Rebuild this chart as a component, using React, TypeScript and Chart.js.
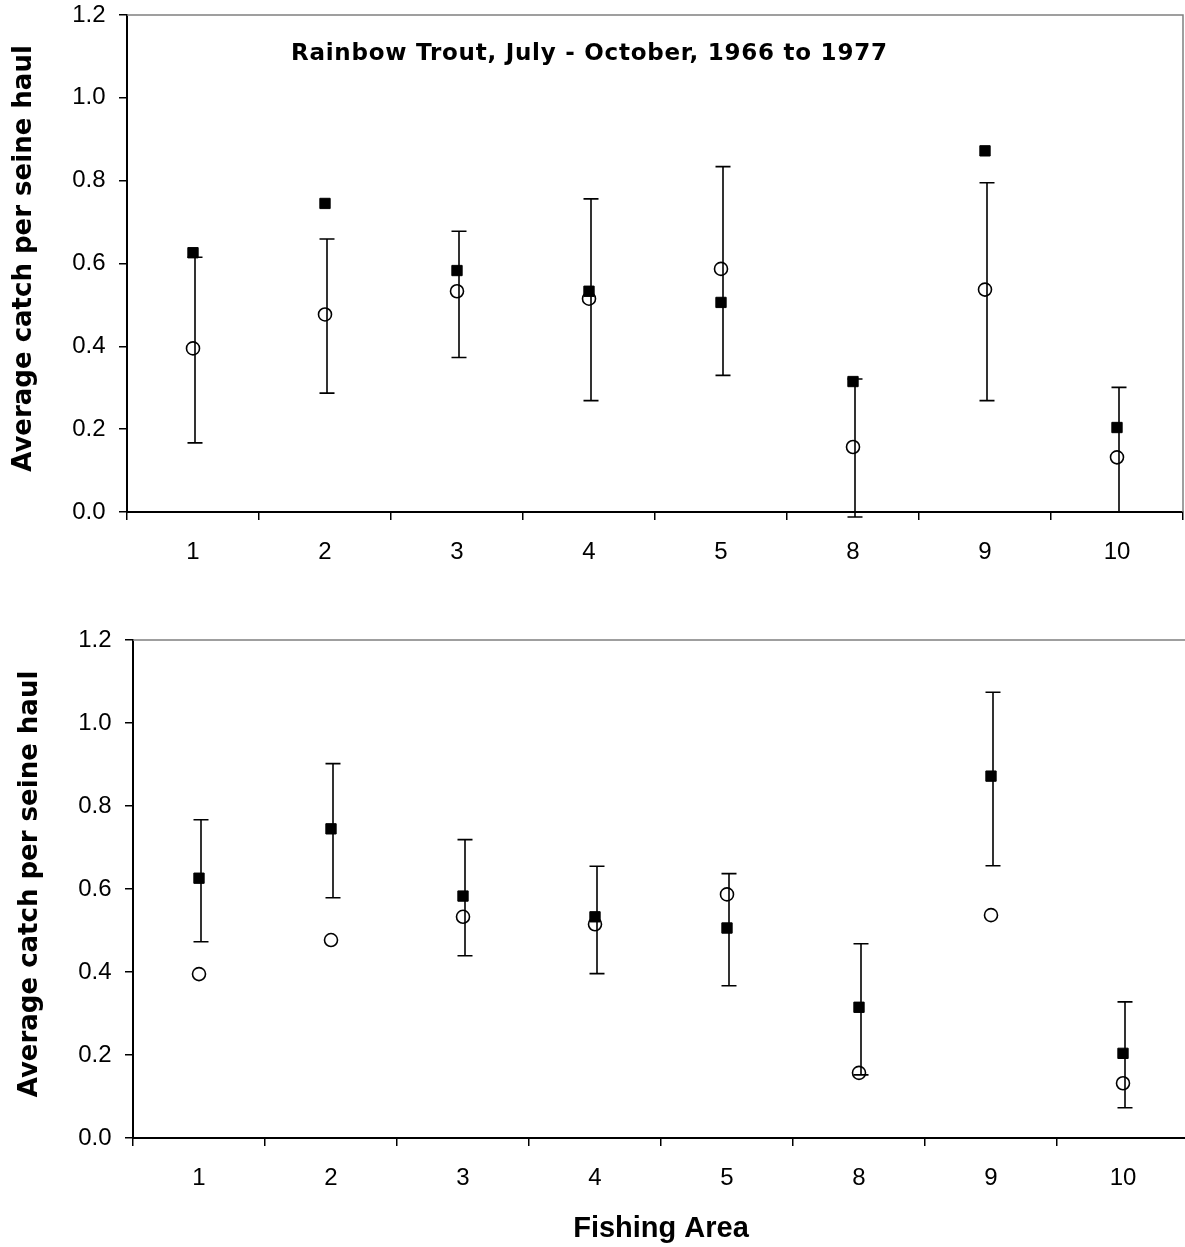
import React, { useEffect, useRef } from 'react';
import { Chart, registerables } from 'chart.js';

Chart.register(...registerables);

// ---- data ----
const AREAS = ['1', '2', '3', '4', '5', '8', '9', '10'];
const SQUARE_MEANS = [0.626, 0.745, 0.583, 0.533, 0.506, 0.315, 0.872, 0.204];
const CIRCLE_MEANS = [0.395, 0.477, 0.533, 0.515, 0.587, 0.157, 0.537, 0.132];
const TOP_ERR_LOW = [0.167, 0.287, 0.373, 0.269, 0.33, -0.012, 0.269, 0.0];
const TOP_ERR_HIGH = [0.615, 0.659, 0.678, 0.756, 0.834, 0.321, 0.795, 0.301];
const BOTTOM_ERR_LOW = [0.473, 0.579, 0.439, 0.396, 0.367, 0.152, 0.656, 0.073];
const BOTTOM_ERR_HIGH = [0.767, 0.902, 0.719, 0.655, 0.637, 0.468, 1.074, 0.328];
const Y_MIN = 0;
const Y_MAX = 1.2;
const Y_STEP = 0.2;
const TITLE = 'Rainbow Trout, July - October, 1966 to 1977';
const Y_TITLE = 'Average catch per seine haul';
const X_TITLE = 'Fishing Area';

const TICK_FONT = { family: "'Liberation Sans', Arial, sans-serif", size: 24 };

const errorBarsPlugin = {
  id: 'errorBars',
  afterDatasetsDraw(chart: any, _args: any, opts: any) {
    if (!opts || !opts.low) return;
    const meta = chart.getDatasetMeta(opts.datasetIndex);
    const y = chart.scales.y;
    const ctx = chart.ctx;
    ctx.save();
    ctx.strokeStyle = '#000';
    ctx.lineWidth = 1.6;
    const half = 7.5;
    opts.low.forEach((lo: number, i: number) => {
      const hi = opts.high[i];
      const pt = meta.data[i];
      if (!pt) return;
      const x = pt.x + 2;
      const yl = y.getPixelForValue(lo);
      const yh = y.getPixelForValue(hi);
      ctx.beginPath();
      ctx.moveTo(x, yl);
      ctx.lineTo(x, yh);
      ctx.moveTo(x - half, yh);
      ctx.lineTo(x + half, yh);
      if (lo !== 0) {
        ctx.moveTo(x - half, yl);
        ctx.lineTo(x + half, yl);
      }
      ctx.stroke();
    });
    ctx.restore();
  },
};

const framePlugin = {
  id: 'frame',
  beforeDatasetsDraw(chart: any) {
    const { ctx, chartArea } = chart;
    ctx.save();
    ctx.strokeStyle = '#808080';
    ctx.lineWidth = 1.5;
    ctx.beginPath();
    ctx.moveTo(chartArea.left, chartArea.top);
    ctx.lineTo(chartArea.right, chartArea.top);
    ctx.lineTo(chartArea.right, chartArea.bottom);
    ctx.stroke();
    ctx.restore();
  },
};

const textsPlugin = {
  id: 'texts',
  afterDraw(chart: any, _args: any, opts: any) {
    const { ctx, chartArea } = chart;
    if (opts && opts.title) {
      ctx.save();
      ctx.fillStyle = '#000';
      ctx.font = "bold 23px 'DejaVu Sans', sans-serif";
      try {
        (ctx as any).letterSpacing = '0.75px';
      } catch (e) {}
      ctx.textAlign = 'left';
      ctx.textBaseline = 'alphabetic';
      ctx.fillText(opts.title, chartArea.left + 164, chartArea.top + 45);
      ctx.restore();
    }
    if (opts && opts.yTitle) {
      ctx.save();
      ctx.fillStyle = '#000';
      ctx.font = "bold 26px 'DejaVu Sans', sans-serif";
      ctx.textAlign = 'center';
      ctx.textBaseline = 'alphabetic';
      ctx.translate(chartArea.left - 96, (chartArea.top + chartArea.bottom) / 2 - 5);
      ctx.rotate(-Math.PI / 2);
      ctx.fillText(opts.yTitle, 0, 0);
      ctx.restore();
    }
  },
};

type PanelProps = {
  width: number;
  height: number;
  top: number;
  padTop: number;
  padRight: number;
  axisLeft: number;
  xAxisHeight: number;
  errLow: number[];
  errHigh: number[];
  errDataset: number;
  title?: string;
  xTitle?: string;
};

function Panel(p: PanelProps) {
  const ref = useRef<HTMLCanvasElement | null>(null);
  useEffect(() => {
    if (!ref.current) return;
    const chart = new Chart(ref.current, {
      type: 'line',
      data: {
        labels: AREAS,
        datasets: [
          {
            label: 'open',
            data: CIRCLE_MEANS,
            showLine: false,
            pointStyle: 'circle',
            pointRadius: 6.5,
            pointBorderWidth: 1.6,
            pointBorderColor: '#000',
            pointBackgroundColor: 'rgba(0,0,0,0)',
          },
          {
            label: 'filled',
            data: SQUARE_MEANS,
            showLine: false,
            pointStyle: 'rect',
            pointRadius: 7.3,
            pointBorderWidth: 1,
            pointBorderColor: '#000',
            pointBackgroundColor: '#000',
          },
        ],
      },
      options: {
        animation: false,
        responsive: false,
        maintainAspectRatio: false,
        devicePixelRatio: 1,
        events: [],
        layout: { autoPadding: false, padding: { top: p.padTop, right: p.padRight, left: 0, bottom: 0 } },
        plugins: {
          legend: { display: false },
          tooltip: { enabled: false },
          errorBars: { low: p.errLow, high: p.errHigh, datasetIndex: p.errDataset },
          texts: { title: p.title || '', yTitle: Y_TITLE },
        } as any,
        scales: {
          x: {
            type: 'category',
            offset: true,
            grid: {
              offset: true,
              drawOnChartArea: false,
              drawTicks: true,
              tickLength: 8,
              color: '#000',
              lineWidth: 1.5,
            },
            border: { display: true, color: '#000', width: 2 },
            ticks: { color: '#000', font: TICK_FONT, padding: 17.5, maxRotation: 0, autoSkip: false },
            title: p.xTitle
              ? {
                  display: true,
                  text: p.xTitle,
                  color: '#000',
                  font: { family: "'Liberation Sans', Arial, sans-serif", size: 29, weight: 'bold' },
                  padding: { top: 0, bottom: 1 },
                }
              : { display: false },
            afterFit: (s: any) => {
              s.height = p.xAxisHeight;
              s.paddingLeft = 0;
              s.paddingRight = 0;
            },
          } as any,
          y: {
            min: Y_MIN,
            max: Y_MAX,
            grid: {
              drawOnChartArea: false,
              drawTicks: true,
              tickLength: 8,
              color: '#000',
              lineWidth: 1.5,
            },
            border: { display: true, color: '#000', width: 2 },
            ticks: {
              stepSize: Y_STEP,
              color: '#000',
              font: TICK_FONT,
              padding: 13.5,
              callback: (v: any) => Number(v).toFixed(1),
            },
            title: { display: false },
            afterFit: (s: any) => {
              s.width = p.axisLeft;
              s.paddingTop = 0;
              s.paddingBottom = 0;
            },
          } as any,
        },
      },
      plugins: [framePlugin, errorBarsPlugin, textsPlugin],
    } as any);
    return () => chart.destroy();
  }, []);
  return (
    <canvas
      ref={ref}
      width={p.width}
      height={p.height}
      style={{ position: 'absolute', left: 0, top: p.top, width: p.width, height: p.height }}
    />
  );
}

export default function App() {
  return (
    <div
      style={{
        position: 'absolute',
        left: 0,
        top: 0,
        width: 1185,
        height: 1247,
        overflow: 'hidden',
        background: '#fff',
      }}
    >
      <Panel
        width={1185}
        height={600}
        top={0}
        padTop={15}
        padRight={2}
        axisLeft={127}
        xAxisHeight={88}
        errLow={TOP_ERR_LOW}
        errHigh={TOP_ERR_HIGH}
        errDataset={0}
        title={TITLE}
      />
      <Panel
        width={1195}
        height={647}
        top={600}
        padTop={40}
        padRight={6}
        axisLeft={133}
        xAxisHeight={109}
        errLow={BOTTOM_ERR_LOW}
        errHigh={BOTTOM_ERR_HIGH}
        errDataset={1}
        xTitle={X_TITLE}
      />
    </div>
  );
}
